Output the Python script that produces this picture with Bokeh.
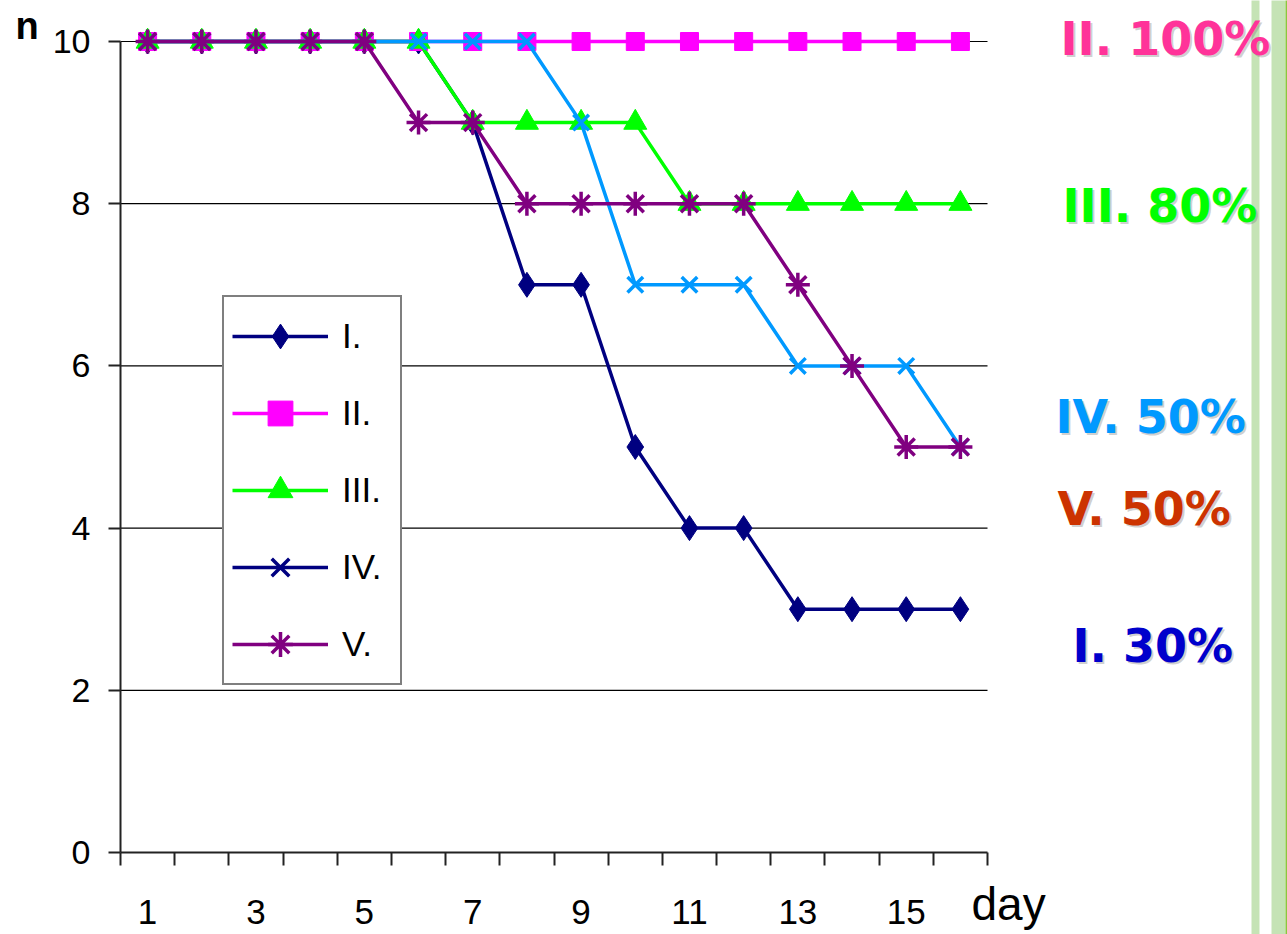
from bokeh.plotting import figure
from bokeh.models import (Range1d, FixedTicker, Legend, LegendItem, Label,
                          ColumnDataSource, BoxAnnotation)
from bokeh.embed import file_html
from bokeh.resources import INLINE

# ---------------- data ----------------
days = list(range(1, 17))
series_I = [10, 10, 10, 10, 10, 10, 9, 7, 7, 5, 4, 4, 3, 3, 3, 3]
series_II = [10, 10, 10, 10, 10, 10, 10, 10, 10, 10, 10, 10, 10, 10, 10, 10]
series_III = [10, 10, 10, 10, 10, 10, 9, 9, 9, 9, 8, 8, 8, 8, 8, 8]
series_IV = [10, 10, 10, 10, 10, 10, 10, 10, 9, 7, 7, 7, 6, 6, 6, 5]
series_V = [10, 10, 10, 10, 10, 9, 9, 8, 8, 8, 8, 8, 7, 6, 5, 5]
series_names = ["I.", "II.", "III.", "IV.", "V."]
x_tick_labels = [1, 3, 5, 7, 9, 11, 13, 15]
y_ticks = [0, 2, 4, 6, 8, 10]
grid_levels = [2, 4, 6, 8, 10]
notes = ["II. 100%", "III. 80%", "IV. 50%", "V. 50%", "I. 30%"]

# ---------------- geometry (picture pixels) ----------------
W, H = 1287, 934
FRAME_L, FRAME_B = 120, 852
PX_PER_DAY = 867 / 16
PX_PER_N = 81.1


def X(px):
    return 0.5 + (px - FRAME_L) / PX_PER_DAY


def Y(py):
    return (FRAME_B - py) / PX_PER_N


FONT = "Liberation Sans"
n_days = len(days)

p = figure(width=W, height=H, output_backend="svg", toolbar_location=None,
           x_range=Range1d(X(0), X(W)), y_range=Range1d(Y(H), Y(0)),
           min_border_left=0, min_border_right=0, min_border_top=0, min_border_bottom=0)
p.title.visible = False
p.outline_line_color = None
p.background_fill_color = "white"
p.border_fill_color = "white"
p.xgrid.visible = False
p.ygrid.visible = False

# x axis: labels at odd days, tick marks at category boundaries
xa = p.xaxis[0]
xa.fixed_location = 0
xa.bounds = (0.5, n_days + 0.5)
xa.ticker = FixedTicker(ticks=x_tick_labels,
                        minor_ticks=[d - 0.5 for d in days] + [n_days + 0.5])
xa.major_tick_out = 13
xa.major_tick_in = 0
xa.major_tick_line_color = None
xa.minor_tick_out = 13
xa.minor_tick_in = 0
xa.minor_tick_line_color = "#222222"
xa.minor_tick_line_width = 2
xa.major_label_standoff = 34
xa.major_label_text_font = FONT
xa.major_label_text_font_size = "35px"
xa.major_label_text_color = "black"
xa.axis_line_width = 2
xa.axis_line_color = "#222222"

ya = p.yaxis[0]
ya.fixed_location = 0.5
ya.bounds = (0, 10)
ya.ticker = FixedTicker(ticks=y_ticks)
ya.major_tick_out = 12
ya.major_tick_in = 0
ya.minor_tick_out = 0
ya.minor_tick_in = 0
ya.major_label_standoff = 18
ya.major_label_text_font = FONT
ya.major_label_text_font_size = "34px"
ya.major_label_text_color = "black"
ya.axis_line_width = 2
ya.axis_line_color = "#222222"
ya.major_tick_line_width = 2
ya.major_tick_line_color = "#222222"

# horizontal gridlines restricted to the category span
gsrc = ColumnDataSource(dict(x0=[0.5] * len(grid_levels), x1=[n_days + 0.5] * len(grid_levels),
                             y=grid_levels))
p.segment(x0="x0", x1="x1", y0="y", y1="y", source=gsrc, line_color="black", line_width=1.2)

# green decorative bars on the right
for l, r in [(1251, 1259), (1271, 1285)]:
    p.add_layout(BoxAnnotation(left=X(l), right=X(r), bottom=Y(H + 40), top=Y(-40),
                               fill_color="#C5E3B5", fill_alpha=1, line_color=None))
p.add_layout(BoxAnnotation(left=X(1285), right=X(1287), bottom=Y(H + 40), top=Y(-40),
                           fill_color="#8CC63F", fill_alpha=1, line_color=None))

series = [series_I, series_II, series_III, series_IV, series_V]
colors = ["#000080", "#FF00FF", "#00FF00", "#0099FF", "#800080"]
legend_colors = ["#000080", "#FF00FF", "#00FF00", "#000080", "#800080"]
markers = ["diamond", "square", "triangle", "x", "asterisk"]
sizes = [25, 18, 23, 22, 24]
mlw = [1, 1, 1, 3.5, 3.5]

for vals, c, m, s, lw in zip(series, colors, markers, sizes, mlw):
    src = ColumnDataSource(dict(x=days, y=vals))
    p.line("x", "y", source=src, line_color=c, line_width=3.5)
    p.scatter("x", "y", source=src, marker=m, size=s, fill_color=c, line_color=c, line_width=lw)

# legend built from placeholder renderers (legend shows IV in navy)
nan = float("nan")
items = []
for name, c, m, lw in zip(series_names, legend_colors, markers, mlw):
    esrc = ColumnDataSource(dict(x=[nan], y=[nan]))
    lr = p.line("x", "y", source=esrc, line_color=c, line_width=3.5)
    sr = p.scatter("x", "y", source=esrc, marker=m, size=24, fill_color=c, line_color=c, line_width=lw)
    items.append(LegendItem(label=name, renderers=[lr, sr]))

legend = Legend(items=items, location=(222, H - 685), glyph_width=96, glyph_height=62,
                label_height=62, label_width=50, spacing=15, padding=8, margin=0,
                label_standoff=14,
                label_text_font=FONT, label_text_font_size="35px", label_text_color="black",
                border_line_color="black", border_line_width=2,
                background_fill_color="white", background_fill_alpha=1)
p.add_layout(legend)

# axis titles (baseline correction of ~0.36 em for Bokeh's label placement)
p.add_layout(Label(x=X(15), y=Y(39 - 14), text="n", text_font=FONT, text_font_size="38px",
                   text_font_style="bold", text_color="black", text_baseline="alphabetic"))
p.add_layout(Label(x=X(971), y=Y(920 - 17), text="day", text_font=FONT, text_font_size="46px",
                   text_color="black", text_baseline="alphabetic"))

# right-side percentage notes
note_pos = [(1060, 55), (1062, 222), (1055, 433), (1057, 525), (1072, 662)]
note_colors = ["#FF3399", "#00FF00", "#0099FF", "#CC3300", "#0000CC"]
for t, (lx, by), c in zip(notes, note_pos, note_colors):
    p.add_layout(Label(x=X(lx), y=Y(by - 17), text=t, text_font="DejaVu Sans",
                       text_font_size="46px", text_font_style="bold", text_color="#777777",
                       text_alpha=0.35, x_offset=2, y_offset=-2, text_baseline="alphabetic"))
    p.add_layout(Label(x=X(lx), y=Y(by - 17), text=t, text_font="DejaVu Sans",
                       text_font_size="46px", text_font_style="bold", text_color=c,
                       text_baseline="alphabetic"))

open("out.html", "w").write(file_html(p, INLINE))
